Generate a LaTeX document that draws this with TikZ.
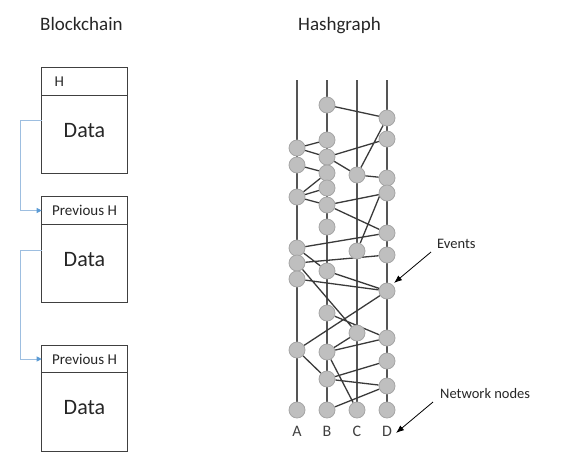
\documentclass[tikz,border=0pt]{standalone}
\usepackage{fontspec}
\setmainfont{Carlito}
\usetikzlibrary{positioning,arrows.meta,backgrounds}
\definecolor{inkc}{HTML}{262626}
\definecolor{boxc}{HTML}{404040}
\definecolor{linkc}{HTML}{9DBEE0}
\definecolor{tipc}{HTML}{5B9BD5}
\definecolor{evfill}{HTML}{BFBFBF}
\definecolor{evline}{HTML}{A5A5A5}
\definecolor{gossc}{HTML}{3A3A3A}
\definecolor{colc}{HTML}{555555}
\begin{document}
\begin{tikzpicture}[x=1pt, y=-1pt,
    hdr/.style={draw=boxc, line width=1.2pt, rectangle, minimum width=85.6pt, minimum height=27.5pt,
      inner sep=0pt, outer sep=0pt, text=inkc, font=\fontsize{15}{18}\selectfont},
    dat/.style={hdr, minimum height=78.5pt, text depth=9pt, font=\fontsize{22}{26}\selectfont},
    link/.style={draw=linkc, line width=1pt, -{Triangle[width=5pt,length=5pt,color=tipc]}},
    evt/.style={circle, fill=evfill, draw=evline, line width=0.8pt, minimum size=16pt, inner sep=0pt},
    gossip/.style={draw=gossc, line width=1.3pt},
    col/.style={draw=colc, line width=1.3pt},
    ptr/.style={-{Latex[length=8pt,width=6pt]}, line width=0.8pt, draw=black},
    ttl/.style={anchor=base west, inner sep=0pt, text=inkc, font=\fontsize{19}{22}\selectfont},
    lbl/.style={anchor=base, inner sep=0pt, text=boxc, font=\fontsize{16}{19}\selectfont},
    note/.style={anchor=base west, inner sep=0pt, text=inkc, font=\fontsize{14.5}{17}\selectfont}]
  \useasboundingbox (0,0) rectangle (580,467);
  \node[ttl] (bct) at (40,30) {Blockchain};
  \node[ttl] (hgt) at (298,30) {Hashgraph};
  % blocks
  \node[hdr, text width=60pt, inner xsep=13pt, align=left] (h1) at (84.5,81.5) {H};
  \node[dat, below=0pt of h1] (dt1) {Data};
  \node[hdr] (h2) at (84.5,210.5) {Previous H};
  \node[dat, below=0pt of h2] (dt2) {Data};
  \node[hdr] (h3) at (84.5,359) {Previous H};
  \node[dat, below=0pt of h3] (dt3) {Data};
  \coordinate (j1) at (20,120.3);
  \coordinate (j2) at (20,250);
  \draw[link] (dt1.west |- j1) -- (j1) |- (h2.west);
  \draw[link] (dt2.west |- j2) -- (j2) |- (h3.west);
  % hashgraph
  \foreach \y [count=\i] in {148,165,197,248,263,279,350,410} \node[evt] (a\i) at (297,\y) {};
  \foreach \y [count=\i] in {105,140,157,173,188,205,227,271,313,352,379,410} \node[evt] (b\i) at (327,\y) {};
  \foreach \y [count=\i] in {175,251,333,410} \node[evt] (c\i) at (357,\y) {};
  \foreach \y [count=\i] in {118,139,178,193,233,255,291,338,361,386,410} \node[evt] (d\i) at (387,\y) {};
  \coordinate (At) at (297,80);
  \coordinate (Bt) at (327,80);
  \coordinate (Ct) at (357,80);
  \coordinate (Dt) at (387,80);
  \begin{scope}[on background layer]
    \draw[col] (At) -- (a8) (Bt) -- (b12) (Ct) -- (c4) (Dt) -- (d11);
    \draw[gossip] (b1) -- (d1) (a1) -- (b2) (a1) -- (b3) (b3) -- (d2) (b3) -- (c1) (d1) -- (c1)
      (a2) -- (b4) (c1) -- (d3) (a3) -- (b4) (a3) -- (b5) (a3) -- (b6) (b6) -- (d4) (b6) -- (d5)
      (d3) -- (c2) (a4) -- (d5) (a4) -- (b8) (a5) -- (d6) (a5) -- (c3) (a6) -- (d7) (b8) -- (d7)
      (d7) -- (a7) (b9) -- (d8) (a7) -- (b11) (b10) -- (c3) (b10) -- (d8) (b10) -- (c4)
      (b11) -- (d9) (b11) -- (d10) (b12) -- (d10);
  \end{scope}
  \node[lbl] (la) at (297,436) {A};
  \node[lbl] (lb) at (327,436) {B};
  \node[lbl] (lc) at (357,436) {C};
  \node[lbl] (ld) at (387,436) {D};
  % notes
  \node[note] (evlbl) at (437,248) {Events};
  \node[note] (nnlbl) at (440,398) {Network nodes};
  \coordinate (evtail) at (431,252);
  \coordinate (evtip) at (394,283);
  \coordinate (nntail) at (433,402);
  \coordinate (nntip) at (396,433);
  \draw[ptr] (evtail) -- (evtip);
  \draw[ptr] (nntail) -- (nntip);
\end{tikzpicture}
\end{document}
